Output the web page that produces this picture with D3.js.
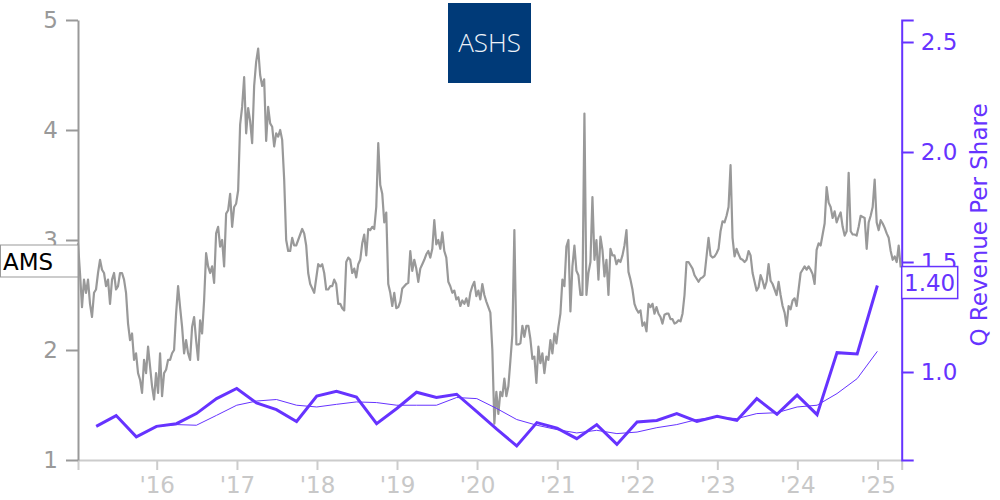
<!DOCTYPE html>
<html>
<head>
<meta charset="utf-8">
<script src="https://cdn.jsdelivr.net/npm/d3@7"></script>
<style>
  html, body { margin: 0; padding: 0; background: #fff; }
  svg { display: block; font-family: "DejaVu Sans", sans-serif; }
</style>
</head>
<body>
<svg id="chart" width="1000" height="500"></svg>
<script>
// ---------------- data ----------------
const ticker = "AMS";
const logoText = "ASHS";
const rightAxisTitle = "Q Revenue Per Share";
const lastRevenueLabel = "1.40";

// price series: start date and sampling interval (days)
const priceStart = "2015-01-07";
const priceStepDays = 9.13;
const priceValues = [
  2.97,2.70,2.39,2.64,2.52,2.64,2.42,2.30,2.52,2.55,2.70,2.82,2.73,2.70,2.58,2.64,2.42,2.64,2.70,2.55,
  2.58,2.70,2.70,2.64,2.52,2.24,2.09,2.15,1.91,1.97,1.79,1.73,1.61,1.91,1.79,2.03,1.85,1.67,1.55,1.79,
  1.61,1.97,1.58,1.79,1.82,1.91,1.91,1.97,2.00,2.33,2.58,2.39,2.21,1.97,2.09,1.97,1.91,2.21,2.30,2.09,
  1.91,2.27,2.15,2.45,2.88,2.76,2.70,2.76,2.61,3.06,3.12,2.94,3.00,2.76,3.24,3.27,3.42,3.12,3.30,3.33,
  3.45,4.05,4.21,4.48,3.97,4.20,4.08,3.88,4.40,4.62,4.74,4.50,4.40,4.46,3.90,4.21,4.06,4.03,3.85,3.97,
  3.94,4.00,3.91,3.55,3.00,2.90,2.90,3.02,2.95,2.95,3.00,3.05,3.10,3.06,2.95,2.70,2.60,2.56,2.52,2.65,
  2.78,2.76,2.78,2.70,2.55,2.55,2.58,2.58,2.64,2.60,2.42,2.42,2.38,2.36,2.80,2.84,2.82,2.70,2.74,2.66,
  2.78,2.82,2.97,3.05,2.86,3.10,3.09,3.12,3.10,3.30,3.88,3.50,3.42,3.16,3.25,2.60,2.52,2.40,2.52,2.38,
  2.39,2.44,2.56,2.58,2.60,2.61,2.90,2.72,2.82,2.74,2.62,2.74,2.78,2.82,2.87,2.90,2.84,2.92,3.18,2.96,
  3.00,2.92,3.07,2.90,2.84,2.62,2.58,2.52,2.54,2.46,2.48,2.40,2.45,2.42,2.47,2.40,2.52,2.58,2.62,2.49,
  2.54,2.46,2.60,2.50,2.44,2.39,2.34,2.00,1.33,1.62,1.42,1.62,1.58,1.74,1.58,1.67,1.90,2.14,3.09,2.05,
  2.05,2.06,2.22,2.12,2.22,2.22,2.10,1.92,1.94,1.70,2.03,1.88,1.97,1.79,1.94,1.91,2.09,1.97,2.15,2.06,
  2.21,2.33,2.64,2.58,2.94,3.00,2.35,2.76,2.95,2.72,2.68,2.50,2.50,4.15,2.50,2.70,2.80,3.39,2.82,3.00,
  2.64,3.03,2.91,2.67,2.82,2.50,2.92,2.86,2.86,2.78,2.82,2.80,2.86,2.95,3.09,2.71,2.64,2.55,2.42,2.37,
  2.34,2.36,2.22,2.25,2.17,2.42,2.39,2.42,2.33,2.39,2.33,2.30,2.24,2.32,2.33,2.33,2.28,2.28,2.24,2.25,
  2.27,2.26,2.33,2.50,2.80,2.80,2.77,2.74,2.68,2.65,2.62,2.65,2.66,2.68,2.85,3.02,2.86,2.84,2.85,2.88,
  2.92,3.08,3.17,3.16,3.22,3.30,3.68,3.02,2.85,2.92,2.87,2.83,2.82,2.80,2.82,2.90,2.86,2.70,2.62,2.54,
  2.57,2.68,2.63,2.56,2.62,2.78,2.63,2.60,2.55,2.50,2.62,2.50,2.40,2.34,2.22,2.40,2.37,2.45,2.47,2.40,
  2.55,2.70,2.73,2.76,2.73,2.76,2.73,2.69,2.60,2.91,2.97,2.95,3.05,3.15,3.48,3.34,3.30,3.20,3.26,3.16,
  3.21,3.25,3.12,3.04,3.08,3.61,3.08,3.05,3.05,3.04,3.12,3.22,3.21,3.20,2.92,3.16,3.22,3.30,3.55,3.16,
  3.09,3.18,3.15,3.11,3.06,3.02,2.90,2.82,2.85,2.80,2.95,2.75
];

// quarterly revenue per share (quarter-end dates)
const quarterEnds = [
  "2015-03-31","2015-06-30","2015-09-30","2015-12-31",
  "2016-03-31","2016-06-30","2016-09-30","2016-12-31",
  "2017-03-31","2017-06-30","2017-09-30","2017-12-31",
  "2018-03-31","2018-06-30","2018-09-30","2018-12-31",
  "2019-03-31","2019-06-30","2019-09-30","2019-12-31",
  "2020-03-31","2020-06-30","2020-09-30","2020-12-31",
  "2021-03-31","2021-06-30","2021-09-30","2021-12-31",
  "2022-03-31","2022-06-30","2022-09-30","2022-12-31",
  "2023-03-31","2023-06-30","2023-09-30","2023-12-31",
  "2024-03-31","2024-06-30","2024-09-30","2024-12-31"
];
const revenueQ = [
  0.753,0.802,0.705,0.753,0.765,0.811,0.879,0.925,0.859,0.829,
  0.775,0.891,0.912,0.886,0.765,0.834,0.908,0.884,0.899,0.820,
  0.740,0.664,0.770,0.745,0.697,0.761,0.671,0.773,0.780,0.811,
  0.775,0.799,0.780,0.879,0.808,0.895,0.806,1.088,1.082,1.393
];
// trailing 4-quarter average (first three quarters have none)
const revenueAvg = [
  null,null,null,0.753,0.761,0.758,0.803,0.849,0.868,0.875,
  0.849,0.841,0.853,0.864,0.861,0.849,0.849,0.849,0.884,0.879,
  0.834,0.784,0.758,0.738,0.723,0.735,0.720,0.727,0.747,0.761,
  0.784,0.795,0.788,0.811,0.815,0.841,0.849,0.902,0.970,1.094
];

const leftTicks = [1, 2, 3, 4, 5];
const rightTicks = [1.0, 1.5, 2.0, 2.5];

// ---------------- drawing ----------------
const purple = "#6633ff";
const svg = d3.select("#chart");
const parse = d3.timeParse("%Y-%m-%d");

const x = d3.scaleTime()
  .domain([parse("2015-01-07"), parse("2025-04-21")])
  .range([78, 901.7]);
const yL = d3.scaleLinear().domain([1, 5]).range([460, 20]);
const yR = d3.scaleLinear().domain([0.6, 2.6]).range([460, 20]);

const start = parse(priceStart);
const price = priceValues.map((v, i) => ({
  date: new Date(start.getTime() + i * priceStepDays * 864e5), v
}));
const rev = quarterEnds.map((d, i) => ({ date: parse(d), v: revenueQ[i], a: revenueAvg[i] }));

// title logo
svg.append("rect").attr("x", 448).attr("y", 3).attr("width", 83).attr("height", 80)
  .attr("fill", "#003a78");
svg.append("text").attr("x", 489.5).attr("y", 52).attr("text-anchor", "middle")
  .attr("font-family", "'Open Sans', sans-serif").attr("font-weight", 300)
  .attr("font-size", 26).attr("fill", "#eef2f8").text(logoText);

// x axis
const xAxis = svg.append("g").attr("transform", "translate(0,460)")
  .call(d3.axisBottom(x).ticks(d3.timeYear.every(1))
    .tickFormat(d => "'" + d3.timeFormat("%y")(d))
    .tickSize(10).tickPadding(7));
xAxis.selectAll("path, line").attr("stroke", "#cccccc").attr("stroke-width", 2);
xAxis.selectAll("text").attr("fill", "#c8c8c8").attr("font-size", 23)
  .attr("font-family", "DejaVu Sans");

// left axis
const lAxis = svg.append("g").attr("transform", "translate(78,0)")
  .call(d3.axisLeft(yL).tickValues(leftTicks).tickFormat(d3.format("d"))
    .tickSize(12).tickSizeOuter(0).tickPadding(8));
lAxis.selectAll("path, line").attr("stroke", "#999999").attr("stroke-width", 2);
lAxis.selectAll("text").attr("fill", "#999999").attr("font-size", 23)
  .attr("font-family", "DejaVu Sans");

// right axis
const rAxis = svg.append("g").attr("transform", "translate(901.7,0)")
  .call(d3.axisRight(yR).tickValues(rightTicks).tickFormat(d3.format(".1f"))
    .tickSize(12).tickSizeOuter(12).tickPadding(7));
rAxis.selectAll("path, line").attr("stroke", purple).attr("stroke-width", 2);
rAxis.selectAll("text").attr("fill", purple).attr("font-size", 23)
  .attr("font-family", "DejaVu Sans");

svg.append("text").attr("transform", "translate(987,225) rotate(-90)")
  .attr("text-anchor", "middle").attr("font-size", 23).attr("fill", purple)
  .text(rightAxisTitle);

// price line
svg.append("path").datum(price)
  .attr("fill", "none").attr("stroke", "#999999").attr("stroke-width", 2.2)
  .attr("stroke-linejoin", "round")
  .attr("d", d3.line().x(d => x(d.date)).y(d => yL(d.v)));

// revenue average (thin)
svg.append("path").datum(rev.filter(d => d.a != null))
  .attr("fill", "none").attr("stroke", purple).attr("stroke-width", 1)
  .attr("d", d3.line().x(d => x(d.date)).y(d => yR(d.a)));

// revenue quarterly (thick)
svg.append("path").datum(rev)
  .attr("fill", "none").attr("stroke", purple).attr("stroke-width", 3)
  .attr("stroke-linejoin", "miter")
  .attr("d", d3.line().x(d => x(d.date)).y(d => yR(d.v)));

// ticker label at left
svg.append("rect").attr("x", 0.5).attr("y", 245).attr("width", 77.5).attr("height", 32)
  .attr("fill", "#fff").attr("stroke", "#999").attr("stroke-width", 1);
svg.append("text").attr("x", 3).attr("y", 269.5).attr("font-size", 23).attr("fill", "#000")
  .text(ticker);

// last revenue label
const lastY = yR(revenueQ[revenueQ.length - 1]);
svg.append("rect").attr("x", 901.7).attr("y", lastY - 19).attr("width", 56).attr("height", 32)
  .attr("fill", "#fff").attr("stroke", purple).attr("stroke-width", 1.5);
svg.append("text").attr("x", 904).attr("y", lastY + 5).attr("font-size", 23).attr("fill", purple)
  .text(lastRevenueLabel);
</script>
</body>
</html>
